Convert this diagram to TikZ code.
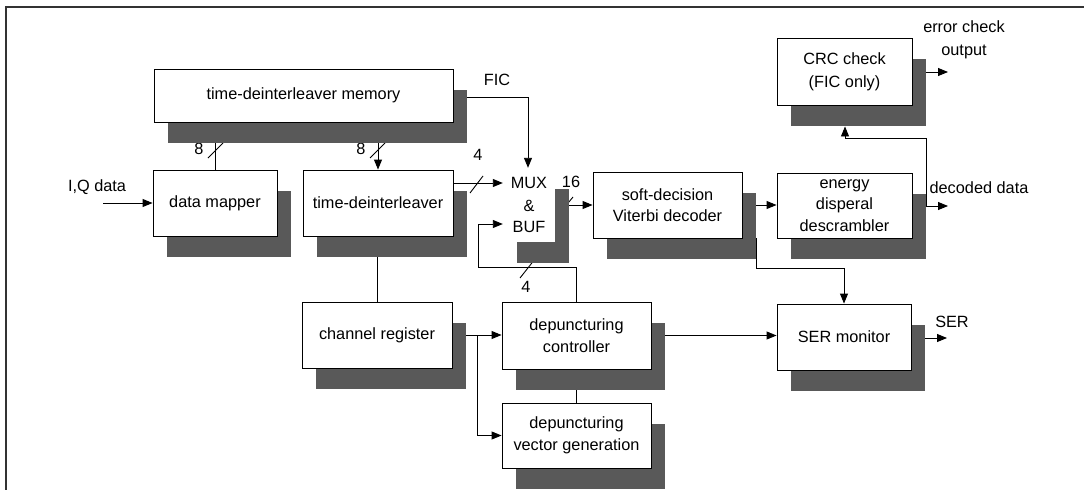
\documentclass[tikz,border=0pt]{standalone}
\usepackage{fontspec}
\setmainfont{Liberation Sans}
\usetikzlibrary{arrows.meta}
\pgfdeclarelayer{lines}
\pgfdeclarelayer{shadows}
\pgfsetlayers{lines,shadows,main}
\newcommand\diafont{\fontsize{16.3pt}{21.5pt}\selectfont}
\newcommand\dropshadow[1]{\fill[shadc] ([shift={(14pt,-21pt)}]#1.south west) rectangle ([shift={(14pt,-21pt)}]#1.north east);}
\definecolor{shadc}{gray}{0.35}
\tikzset{
  blk/.style={draw, line width=0.9pt, fill=white, inner sep=0pt, align=center, font=\diafont},
  ghost/.style={fill=white, inner sep=0pt, align=center, font=\diafont},
  lbl/.style={inner sep=0pt, align=center, font=\diafont},
  conn/.style={line width=0.9pt},
  arr/.style={line width=0.9pt, -{Triangle[length=10pt,width=8pt]}},
  slash/.style={line width=0.9pt},
  frame/.style={line width=1.3pt, black!80}
}
\begin{document}
\begin{tikzpicture}[x=1pt,y=-1pt]
\useasboundingbox (0,0) rectangle (1084,490);
% frame
\coordinate (f0) at (6,7);
\coordinate (f1) at (1084,7);
\coordinate (f2) at (6,490);
\draw[frame] (f1) -- (f0) -- (f2);

% blocks
\node[blk, minimum width=299pt, minimum height=53pt] (mem) at (303.5,95.5) {time-deinterleaver memory};
\node[blk, minimum width=124pt, minimum height=66pt] (dmap) at (215,203) {data mapper};
\node[blk, minimum width=150pt, minimum height=66pt] (tdi) at (378,203) {time-deinterleaver};
\node[ghost, minimum width=52pt, minimum height=74pt] (mux) at (529,205) {MUX\\[1.5pt]\&\\[-1pt]BUF};
\node[blk, minimum width=149pt, minimum height=66pt] (vit) at (667.5,205) {soft-decision\\Viterbi decoder};
\node[blk, minimum width=135pt, minimum height=65pt] (eng) at (844.5,205.5) {energy\\disperal\\descrambler};
\node[blk, minimum width=135pt, minimum height=67pt] (crc) at (844.5,71.5) {CRC check\\[1.5pt](FIC only)};
\node[blk, minimum width=150pt, minimum height=66pt] (chr) at (377,335) {channel register};
\node[blk, minimum width=149pt, minimum height=67pt] (dctl) at (576.5,335.5) {depuncturing\\controller};
\node[blk, minimum width=149pt, minimum height=65pt] (dvec) at (576.5,435.5) {depuncturing\\vector generation};
\node[blk, minimum width=134pt, minimum height=66pt] (ser) at (844,337) {SER monitor};

% shadows
\begin{pgfonlayer}{shadows}
\dropshadow{mem}
\dropshadow{dmap}
\dropshadow{tdi}
\dropshadow{mux}
\dropshadow{vit}
\dropshadow{eng}
\dropshadow{crc}
\dropshadow{chr}
\dropshadow{dctl}
\dropshadow{dvec}
\dropshadow{ser}
\end{pgfonlayer}

% free ends
\coordinate (iq) at (103,203);
\coordinate (ddout) at (948,206);
\coordinate (ecout) at (948,72);
\coordinate (serout) at (947,338);
\coordinate (jn) at (926,206);
\coordinate (jc) at (926,138);
\coordinate (bk) at (478,267);

% labels
\node[lbl] (liq) at (97,187) {I,Q data};
\node[lbl] (l4a) at (478,155) {4};
\node[lbl] (lfic) at (497,80) {FIC};
\node[lbl] (l16) at (571,182) {16};
\node[lbl] (l4b) at (526,287) {4};
\node[lbl] (lec) at (964,39.5) {error check\\[1.5pt]output};
\node[lbl] (ldd) at (979,188) {decoded data};
\node[lbl] (lser) at (952,322) {SER};

% connectors
\begin{pgfonlayer}{lines}
\node[lbl] (l8a) at (199,149) {8};
\node[lbl] (l8b) at (361,149) {8};
\draw[arr] (iq) -- (dmap.west);
\draw[conn] (dmap.north) -- (dmap.north |- mem.south);
\draw[arr] (tdi.north |- mem.south) -- (tdi.north);
\draw[arr] ([yshift=-1.5pt]mem.east) -| ([xshift=-1pt]mux.north);
\draw[arr] ([yshift=20pt]tdi.east) -- ([yshift=20pt]tdi.east -| mux.west);
\draw[arr] (dctl.north) |- (bk) |- ([yshift=-19pt]mux.west);
\draw[arr] (mux.east |- vit.west) -- (vit.west);
\draw[arr] (vit.east) -- (vit.east -| eng.west);
\draw[arr] (eng.east |- ddout) -- (ddout);
\draw[arr] (jn) |- (jc) -| ([xshift=0.5pt,yshift=-21pt]crc.south);
\draw[arr] ([yshift=-0.5pt]crc.east) -- (ecout);
\draw[conn] (tdi.south -| chr.north) -- (chr.north);
\draw[arr] (chr.east) -- (chr.east -| dctl.west);
\draw[arr] ([xshift=25pt]chr.east) |- (dvec.west);
\draw[conn] (dctl.south) -- (dvec.north);
\draw[arr] (dctl.east) -- (dctl.east -| ser.west);
\draw[arr] ([xshift=14pt]vit.south east) -- ++(0,30) -| (ser.north);
\draw[arr] (ser.east |- serout) -- (serout);
% bus slashes
\draw[slash] (208,158) -- (223,143);
\draw[slash] (370,158) -- (385,143);
\draw[slash] (470,193) -- (483,176);
\draw[slash] (559,214) -- (573,197);
\draw[slash] (520,278) -- (535,259);
\end{pgfonlayer}
\end{tikzpicture}
\end{document}
